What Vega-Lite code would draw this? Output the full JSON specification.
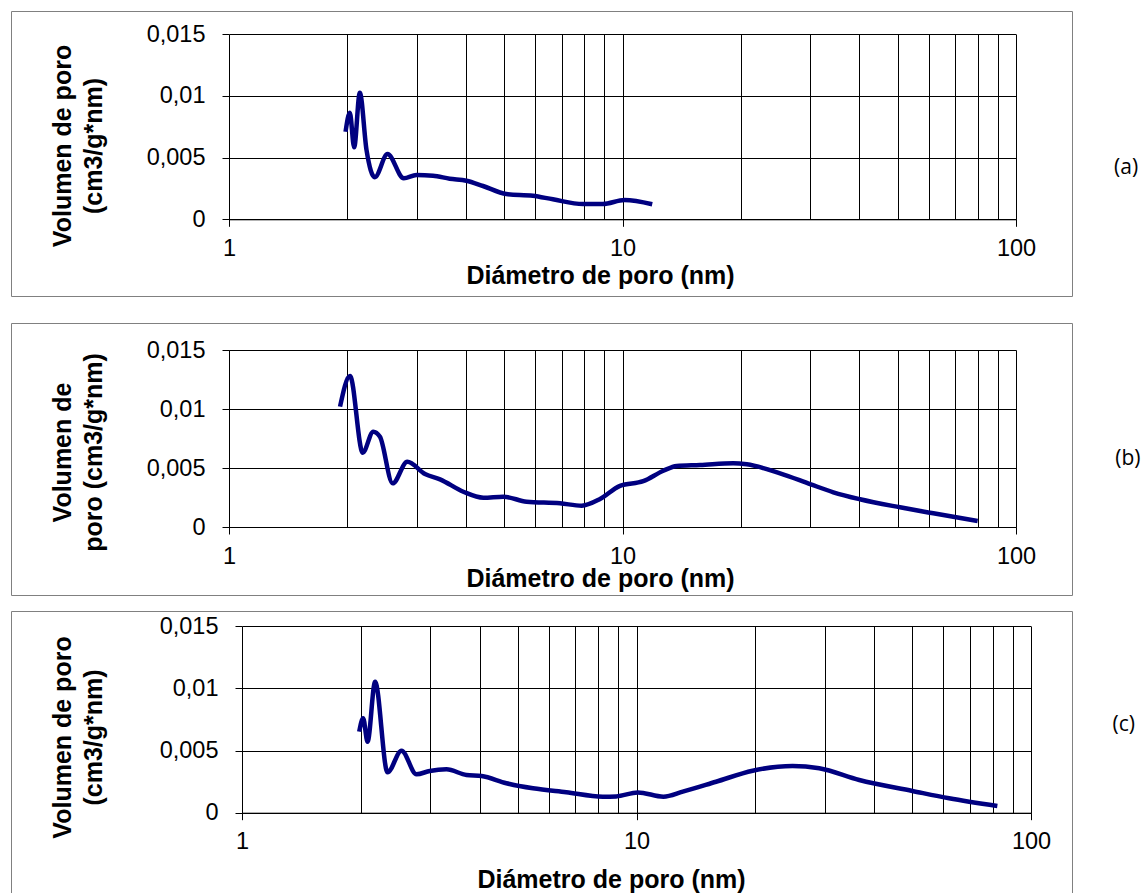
{
  "$schema": "https://vega.github.io/schema/vega-lite/v6.json",
  "padding": {"left": 10, "top": 10, "right": 0, "bottom": 0},
  "background": "white",
  "datasets": {
    "a": [
      {"d": 1.978, "v": 0.0071}, {"d": 2.028, "v": 0.00864}, {"d": 2.08, "v": 0.00584}, {"d": 2.15, "v": 0.01026},
      {"d": 2.236, "v": 0.00562}, {"d": 2.347, "v": 0.00341}, {"d": 2.528, "v": 0.00529}, {"d": 2.781, "v": 0.00332},
      {"d": 2.995, "v": 0.00359}, {"d": 3.3, "v": 0.00354}, {"d": 3.638, "v": 0.00329}, {"d": 4.012, "v": 0.00313},
      {"d": 4.42, "v": 0.0027}, {"d": 5.067, "v": 0.00205}, {"d": 5.92, "v": 0.00191}, {"d": 6.655, "v": 0.00162},
      {"d": 7.93, "v": 0.00124}, {"d": 8.913, "v": 0.00124}, {"d": 10.12, "v": 0.00156}, {"d": 11.9, "v": 0.00122}
    ],
    "b": [
      {"d": 1.915, "v": 0.0102}, {"d": 2.03, "v": 0.0128}, {"d": 2.187, "v": 0.0063}, {"d": 2.326, "v": 0.00808},
      {"d": 2.419, "v": 0.00765}, {"d": 2.606, "v": 0.0037}, {"d": 2.839, "v": 0.00553}, {"d": 3.149, "v": 0.00449},
      {"d": 3.438, "v": 0.00404}, {"d": 3.939, "v": 0.00299}, {"d": 4.43, "v": 0.00248}, {"d": 4.978, "v": 0.00257},
      {"d": 5.707, "v": 0.00214}, {"d": 6.937, "v": 0.00201}, {"d": 7.877, "v": 0.00181}, {"d": 8.767, "v": 0.00237},
      {"d": 9.854, "v": 0.00349}, {"d": 11.29, "v": 0.00388}, {"d": 12.7, "v": 0.00477}, {"d": 13.73, "v": 0.00517},
      {"d": 15.74, "v": 0.00525}, {"d": 19.12, "v": 0.0054}, {"d": 20.69, "v": 0.00531}, {"d": 25.14, "v": 0.00455},
      {"d": 29.96, "v": 0.00364}, {"d": 34.34, "v": 0.00294}, {"d": 40.14, "v": 0.00235}, {"d": 50.73, "v": 0.00167},
      {"d": 61.65, "v": 0.00116}, {"d": 79.9, "v": 0.00051}
    ],
    "c": [
      {"d": 1.982, "v": 0.00652}, {"d": 2.028, "v": 0.0076}, {"d": 2.081, "v": 0.00571}, {"d": 2.175, "v": 0.01054},
      {"d": 2.338, "v": 0.00325}, {"d": 2.537, "v": 0.00499}, {"d": 2.769, "v": 0.00309}, {"d": 2.992, "v": 0.00336},
      {"d": 3.298, "v": 0.00349}, {"d": 3.706, "v": 0.00303}, {"d": 4.046, "v": 0.00295}, {"d": 4.679, "v": 0.00237},
      {"d": 5.464, "v": 0.00196}, {"d": 6.637, "v": 0.00164}, {"d": 8.216, "v": 0.00129}, {"d": 8.884, "v": 0.00131},
      {"d": 10.08, "v": 0.00163}, {"d": 11.7, "v": 0.00129}, {"d": 13.1, "v": 0.00169}, {"d": 15.91, "v": 0.00249},
      {"d": 19.7, "v": 0.00338}, {"d": 24.87, "v": 0.00376}, {"d": 29.06, "v": 0.00357}, {"d": 36.7, "v": 0.00263},
      {"d": 50.07, "v": 0.00175}, {"d": 62.0, "v": 0.00116}, {"d": 82.17, "v": 0.00054}
    ]
  },
  "spacing": 14,
  "vconcat": [
    {
      "spacing": 25,
      "vconcat": [
        {
          "data": {"name": "a"},
          "width": 1061,
          "height": 285,
          "title": {"text": "(a)", "orient": "right", "angle": 0, "anchor": "middle", "align": "left", "baseline": "middle", "offset": 18, "dy": 14, "font": "Open Sans", "fontSize": 21, "fontWeight": "normal", "color": "#000000"},
          "resolve": {"axis": {"x": "independent", "y": "independent"}},
          "layer": [
            {
              "mark": {"type": "line", "color": "#000080", "strokeWidth": 4.5, "interpolate": "monotone", "clip": false},
              "encoding": {
                "x": {
                  "field": "d", "type": "quantitative",
                  "scale": {"type": "log", "domain": [1, 100], "range": [218, 1005], "nice": false},
                  "axis": {
                    "orient": "bottom", "grid": false,
                    "values": [1, 10, 100],
                    "labelExpr": "toString(datum.value)",
                    "offset": -76.7,
                    "title": "Diámetro de poro (nm)",
                    "titleX": 589, "titleY": 64
                  }
                },
                "y": {
                  "field": "v", "type": "quantitative",
                  "scale": {"domain": [0, 0.015], "range": [208.3, 23.3], "nice": false, "zero": true},
                  "axis": {
                    "values": [0, 0.005, 0.01, 0.015],
                    "labelExpr": "replace(toString(datum.value), '.', ',')",
                    "offset": -218,
                    "title": ["Volumen de poro", "(cm3/g*nm)"],
                    "titleX": -158.3, "titleY": 134.5
                  }
                }
              }
            },
            {
              "mark": {"type": "line", "opacity": 0},
              "encoding": {
                "x": {
                  "field": "d", "type": "quantitative",
                  "axis": {
                    "orient": "top", "grid": true, "labels": false, "ticks": false, "domain": false, "title": null,
                    "values": [1, 2, 3, 4, 5, 6, 7, 8, 9, 10, 20, 30, 40, 50, 60, 70, 80, 90, 100]
                  }
                },
                "y": {"field": "v", "type": "quantitative", "axis": null}
              }
            }
          ]
        },
        {
          "data": {"name": "b"},
          "width": 1061,
          "height": 272,
          "title": {"text": "(b)", "orient": "right", "angle": 0, "anchor": "middle", "align": "left", "baseline": "middle", "offset": 18, "dy": 0, "font": "Open Sans", "fontSize": 21, "fontWeight": "normal", "color": "#000000"},
          "resolve": {"axis": {"x": "independent", "y": "independent"}},
          "layer": [
            {
              "mark": {"type": "line", "color": "#000080", "strokeWidth": 4.5, "interpolate": "monotone", "clip": false},
              "encoding": {
                "x": {
                  "field": "d", "type": "quantitative",
                  "scale": {"type": "log", "domain": [1, 100], "range": [218, 1005], "nice": false},
                  "axis": {
                    "orient": "bottom", "grid": false,
                    "values": [1, 10, 100],
                    "labelExpr": "toString(datum.value)",
                    "offset": -68,
                    "title": "Diámetro de poro (nm)",
                    "titleX": 589, "titleY": 59
                  }
                },
                "y": {
                  "field": "v", "type": "quantitative",
                  "scale": {"domain": [0, 0.015], "range": [204, 27], "nice": false, "zero": true},
                  "axis": {
                    "values": [0, 0.005, 0.01, 0.015],
                    "labelExpr": "replace(toString(datum.value), '.', ',')",
                    "offset": -218,
                    "title": ["Volumen de", "poro (cm3/g*nm)"],
                    "titleX": -158.3, "titleY": 129
                  }
                }
              }
            },
            {
              "mark": {"type": "line", "opacity": 0},
              "encoding": {
                "x": {
                  "field": "d", "type": "quantitative",
                  "axis": {
                    "orient": "top", "grid": true, "labels": false, "ticks": false, "domain": false, "title": null,
                    "values": [1, 2, 3, 4, 5, 6, 7, 8, 9, 10, 20, 30, 40, 50, 60, 70, 80, 90, 100]
                  }
                },
                "y": {"field": "v", "type": "quantitative", "axis": null}
              }
            }
          ]
        }
      ]
    },
    {
      "data": {"name": "c"},
      "width": 1061,
      "height": 290,
      "title": {"text": "(c)", "orient": "right", "angle": 0, "anchor": "middle", "align": "left", "baseline": "middle", "offset": 18, "dy": -31, "font": "Open Sans", "fontSize": 21, "fontWeight": "normal", "color": "#000000"},
      "resolve": {"axis": {"x": "independent", "y": "independent"}},
      "layer": [
        {
          "mark": {"type": "line", "color": "#000080", "strokeWidth": 4.5, "interpolate": "monotone", "clip": false},
          "encoding": {
            "x": {
              "field": "d", "type": "quantitative",
              "scale": {"type": "log", "domain": [1, 100], "range": [231, 1020], "nice": false},
              "axis": {
                "orient": "bottom", "grid": false,
                "values": [1, 10, 100],
                "labelExpr": "toString(datum.value)",
                "offset": -88.3,
                "title": "Diámetro de poro (nm)",
                "titleX": 600, "titleY": 75
              }
            },
            "y": {
              "field": "v", "type": "quantitative",
              "scale": {"domain": [0, 0.015], "range": [201.7, 15.3], "nice": false, "zero": true},
              "axis": {
                "values": [0, 0.005, 0.01, 0.015],
                "labelExpr": "replace(toString(datum.value), '.', ',')",
                "offset": -231,
                "title": ["Volumen de poro", "(cm3/g*nm)"],
                "titleX": -171.3, "titleY": 126
              }
            }
          }
        },
        {
          "mark": {"type": "line", "opacity": 0},
          "encoding": {
            "x": {
              "field": "d", "type": "quantitative",
              "axis": {
                "orient": "top", "grid": true, "labels": false, "ticks": false, "domain": false, "title": null,
                "values": [1, 2, 3, 4, 5, 6, 7, 8, 9, 10, 20, 30, 40, 50, 60, 70, 80, 90, 100]
              }
            },
            "y": {"field": "v", "type": "quantitative", "axis": null}
          }
        }
      ]
    }
  ],
  "config": {
    "view": {"stroke": "#808080", "strokeWidth": 1},
    "title": {"font": "Open Sans", "fontSize": 21, "fontWeight": "normal", "color": "#000000"},
    "style": {"group-title": {"font": "Open Sans", "fontSize": 21, "fontWeight": "normal", "fill": "#000000"}},
    "axis": {
      "grid": true,
      "gridColor": "#000000",
      "gridOpacity": 1,
      "gridWidth": 1,
      "domainColor": "#000000",
      "domainWidth": 1,
      "tickColor": "#000000",
      "tickSize": 7,
      "tickWidth": 1,
      "labelFont": "Liberation Sans",
      "labelFontSize": 23.5,
      "labelColor": "#000000",
      "labelFlush": false,
      "labelOverlap": false,
      "titleFont": "Liberation Sans",
      "titleFontSize": 25,
      "titleFontWeight": "bold",
      "titleColor": "#000000",
      "titleAlign": "center",
      "titleBaseline": "alphabetic",
      "titleLineHeight": 31
    },
    "axisX": {"labelPadding": 10},
    "axisY": {"labelPadding": 17, "titleAngle": -90}
  }
}
